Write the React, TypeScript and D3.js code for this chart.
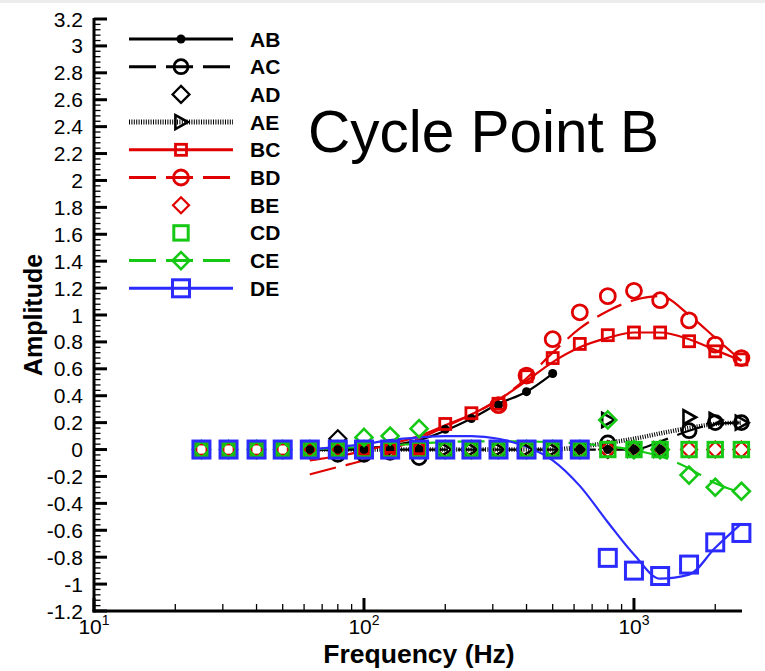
import React from "react";
import * as d3 from "d3";

const freqs = [25, 31.5, 40, 50, 63, 80, 100, 125, 160, 200, 250, 315, 400, 500, 630, 800, 1000, 1250, 1600, 2000, 2500];
const lineFreqs = [63, 80, 100, 125, 160, 200, 250, 315, 400, 500, 630, 800, 1000, 1250, 1600, 2000, 2500];
const abLineFreqs = [63, 80, 100, 125, 160, 200, 250, 315, 400, 500];

// marker values (measured)
const abPts = [null, null, null, null, 0, 0, 0, 0, 0, 0.15, 0.23, 0.33, 0.43, 0.565, 0, 0, 0, 0, null, null, null];
const acPts = [0, 0, 0, 0, 0, -0.035, -0.035, -0.02, -0.06, 0, 0, 0, 0, 0, 0, 0.05, 0, 0, 0.14, 0.2, 0.2];
const adPts = [0, 0, 0, 0, 0, 0.08, 0, 0, 0, 0, 0, 0, 0, 0, 0, 0, 0, 0, null, null, null];
const aePts = [null, null, null, null, 0, 0, 0, 0, 0, 0, 0, 0, 0, 0, 0, 0.22, 0, 0, 0.24, 0.22, 0.2];
const bcPts = [0, 0, 0, 0, 0, 0, 0, 0.02, 0.01, 0.19, 0.27, 0.34, 0.545, 0.68, 0.785, 0.85, 0.87, 0.87, 0.805, 0.73, 0.67];
const bdPts = [0, 0, 0, 0, 0, 0, 0, 0, 0, null, null, 0.33, 0.55, 0.82, 1.02, 1.14, 1.18, 1.11, 0.96, 0.78, 0.68];
const bePts = [0, 0, 0, 0, 0, 0, 0, 0, 0, 0, 0, 0, 0, 0, 0, 0, 0, 0, 0, 0, 0];
const cdPts = [0, 0, 0, 0, 0, 0, 0, 0, 0, 0, 0, 0, 0, 0, 0, 0, 0, 0, 0, 0, 0];
const cePts = [0, 0, 0, 0, 0, 0, 0.09, 0.1, 0.155, 0, 0, 0, 0, 0, 0, 0.22, 0, 0, -0.19, -0.28, -0.31];
const dePts = [0, 0, 0, 0, 0, 0, 0, 0, 0, 0, 0, 0, 0, 0, 0, -0.805, -0.9, -0.94, -0.855, -0.69, -0.62];

// fitted curves
const abLine = [0, 0, 0.01, 0.03, 0.07, 0.14, 0.23, 0.34, 0.43, 0.565];
const acLine = [0, 0, 0, 0, 0, 0, 0, 0, 0, 0, 0, 0, 0, 0.06, 0.14, 0.19, 0.2];
const aeLine = [0, 0, 0, 0, 0, 0, 0, 0, 0, 0, 0.02, 0.05, 0.08, 0.12, 0.16, 0.19, 0.2];
const bcLine = [-0.08, -0.05, -0.01, 0.04, 0.1, 0.18, 0.26, 0.37, 0.51, 0.65, 0.76, 0.83, 0.87, 0.87, 0.82, 0.74, 0.66];
const bdLine = [-0.185, -0.13, -0.08, 0.0, 0.08, 0.17, 0.26, 0.37, 0.53, 0.72, 0.9, 1.03, 1.11, 1.14, 1.0, 0.83, 0.66];
const ceLine = [0, 0.01, 0.02, 0.03, 0.045, 0.055, 0.06, 0.06, 0.06, 0.055, 0.045, 0.025, -0.005, -0.05, -0.14, -0.25, -0.32];
const deLine = [0, 0.02, 0.04, 0.07, 0.09, 0.1, 0.1, 0.08, 0.02, -0.08, -0.27, -0.54, -0.78, -0.96, -0.93, -0.73, -0.55];

const yMajorTicks = d3.range(-6, 17).map((k) => Math.round(k * 2) / 10);
const yMinorTicks = d3.range(-30, 81).map((k) => Math.round(k * 4) / 100);
const xMajorTicks = [10, 100, 1000];
const xMajorExp = ["1", "2", "3"];
const xMinorTicks = [20, 30, 40, 50, 60, 70, 80, 90, 200, 300, 400, 500, 600, 700, 800, 900, 2000];

const RED = "#e00000";
const GREEN = "#14c814";
const BLUE = "#2b2bff";
const BLACK = "#000";
const FONT = "'Liberation Sans', Arial, Helvetica, sans-serif";

type MarkerKind = "dot" | "circle" | "diamond" | "tri" | "square";
interface Series {
  name: string;
  color: string;
  marker: MarkerKind;
  size: number;
  sw: number;
  pts: (number | null)[];
  line?: number[];
  lineX?: number[];
  dash?: string;
  hatched?: boolean;
}

const series: Series[] = [
  { name: "AB", color: BLACK, marker: "dot", size: 4.5, sw: 0, pts: abPts, line: abLine, lineX: abLineFreqs },
  { name: "AC", color: BLACK, marker: "circle", size: 7, sw: 2.8, pts: acPts, line: acLine, lineX: lineFreqs, dash: "27,10" },
  { name: "AD", color: BLACK, marker: "diamond", size: 8.5, sw: 2.2, pts: adPts },
  { name: "AE", color: BLACK, marker: "tri", size: 7, sw: 2.6, pts: aePts, line: aeLine, lineX: lineFreqs, hatched: true },
  { name: "BC", color: RED, marker: "square", size: 5.5, sw: 2.8, pts: bcPts, line: bcLine, lineX: lineFreqs },
  { name: "BD", color: RED, marker: "circle", size: 7.5, sw: 2.8, pts: bdPts, line: bdLine, lineX: lineFreqs, dash: "27,10" },
  { name: "BE", color: RED, marker: "diamond", size: 8, sw: 2.2, pts: bePts },
  { name: "CD", color: GREEN, marker: "square", size: 7.2, sw: 3, pts: cdPts },
  { name: "CE", color: GREEN, marker: "diamond", size: 8.5, sw: 2.6, pts: cePts, line: ceLine, lineX: lineFreqs, dash: "27,10" },
  { name: "DE", color: BLUE, marker: "square", size: 8.5, sw: 3, pts: dePts, line: deLine, lineX: lineFreqs },
];

const x = d3.scaleLog().domain([10, 2500]).range([94, 741.4]);
const y = d3.scaleLinear().domain([-1.2, 3.2]).range([611, 19]);

function Marker({ s, cx, cy }: { s: Series; cx: number; cy: number }) {
  const r = s.size;
  if (s.marker === "dot") return <circle cx={cx} cy={cy} r={r} fill={s.color} />;
  const common = { fill: "none", stroke: s.color, strokeWidth: s.sw };
  if (s.marker === "circle") return <circle cx={cx} cy={cy} r={r} {...common} />;
  if (s.marker === "square")
    return <rect x={cx - r} y={cy - r} width={2 * r} height={2 * r} {...common} />;
  if (s.marker === "diamond")
    return (
      <path d={`M${cx},${cy - r}L${cx + r},${cy}L${cx},${cy + r}L${cx - r},${cy}Z`} {...common} />
    );
  return (
    <path
      d={`M${cx - r * 0.8},${cy - r}L${cx + r},${cy}L${cx - r * 0.8},${cy + r}Z`}
      {...common}
    />
  );
}

function LineMark({ s, d, legend }: { s: Series; d: string; legend?: boolean }) {
  if (s.hatched)
    return (
      <path d={d} fill="none" stroke={s.color} strokeWidth={legend ? 5 : 4.5} strokeDasharray="1,1.4" />
    );
  return (
    <path
      d={d}
      fill="none"
      stroke={s.color}
      strokeWidth={legend ? 3 : 2.2}
      strokeDasharray={s.dash}
    />
  );
}

export default function App() {
  const lineGen = d3
    .line<[number, number]>()
    .x((p) => x(p[0]))
    .y((p) => y(p[1]))
    .curve(d3.curveMonotoneX);

  const legendY0 = 39;
  const legendDy = 27.7;

  return (
    <svg
      width={765}
      height={671}
      style={{ position: "absolute", left: 0, top: 0, background: "#fff" }}
      fontFamily={FONT}
    >
      <rect x={0} y={0} width={765} height={671} fill="#fff" />
      <rect x={0} y={0} width={765} height={3} fill="#ececec" />

      {/* y minor ticks */}
      {yMinorTicks.map((v) => (
        <line key={"ym" + v} x1={94} x2={100.5} y1={y(v)} y2={y(v)} stroke="#000" strokeWidth={1.3} />
      ))}
      {yMajorTicks.map((v) => (
        <g key={"yM" + v}>
          <line x1={94} x2={107} y1={y(v)} y2={y(v)} stroke="#000" strokeWidth={3} />
          <text x={83} y={y(v) + 7.5} textAnchor="end" fontSize={21} fill="#000">
            {String(v)}
          </text>
        </g>
      ))}
      {xMinorTicks.map((v) => (
        <line key={"xm" + v} x1={x(v)} x2={x(v)} y1={611} y2={604} stroke="#000" strokeWidth={1.3} />
      ))}
      {xMajorTicks.map((v, i) => (
        <g key={"xM" + v}>
          <line x1={x(v)} x2={x(v)} y1={611} y2={598} stroke="#000" strokeWidth={3} />
          <text x={x(v)} y={634} textAnchor="middle" fontSize={21} fill="#000">
            10
            <tspan fontSize={14} dy={-9}>
              {xMajorExp[i]}
            </tspan>
          </text>
        </g>
      ))}

      {/* axes */}
      <line x1={94} x2={94} y1={18} y2={612.5} stroke="#000" strokeWidth={3} />
      <line x1={92.5} x2={742} y1={611} y2={611} stroke="#000" strokeWidth={3} />

      {/* axis titles */}
      <text x={419} y={663} textAnchor="middle" fontSize={26.5} fontWeight="bold" fill="#000">
        Frequency (Hz)
      </text>
      <text
        transform="translate(42,315) rotate(-90)"
        textAnchor="middle"
        fontSize={25}
        fontWeight="bold"
        fill="#000"
      >
        Amplitude
      </text>

      {/* title */}
      <text x={308} y={152} fontSize={58.5} fill="#000">
        Cycle Point B
      </text>

      {/* data lines */}
      {series.map((s) =>
        s.line && s.lineX ? (
          <LineMark
            key={"l" + s.name}
            s={s}
            d={lineGen(s.lineX.map((f, i) => [f, s.line![i]] as [number, number])) || ""}
          />
        ) : null
      )}
      {/* data markers */}
      {series.map((s) => (
        <g key={"m" + s.name}>
          {freqs.map((f, i) =>
            s.pts[i] === null ? null : (
              <Marker key={i} s={s} cx={x(f)} cy={y(s.pts[i] as number)} />
            )
          )}
        </g>
      ))}

      {/* legend */}
      {series.map((s, i) => {
        const ly = legendY0 + i * legendDy;
        return (
          <g key={"lg" + s.name}>
            {(s.line || s.hatched) && <LineMark s={s} d={`M129,${ly}L233,${ly}`} legend />}
            <Marker s={s} cx={181} cy={ly} />
            <text x={250} y={ly + 7.5} fontSize={21} fontWeight="bold" fill="#000">
              {s.name}
            </text>
          </g>
        );
      })}
    </svg>
  );
}
